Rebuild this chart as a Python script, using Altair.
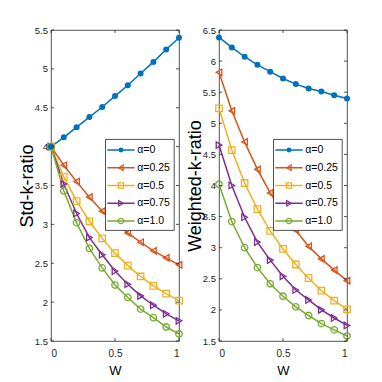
import altair as alt
import pandas as pd

W = [0.0, 0.1, 0.2, 0.3, 0.4, 0.5, 0.6, 0.7, 0.8, 0.9, 1.0]
series_names = ["α=0", "α=0.25", "α=0.5", "α=0.75", "α=1.0"]
colors = ["#0072BD", "#D95319", "#EDB120", "#7E2F8E", "#77AC30"]
shapes = ["circle", "triangle-left", "square", "triangle-right", "circle"]

std_a0 = [4.00, 4.12, 4.25, 4.38, 4.51, 4.65, 4.79, 4.94, 5.09, 5.25, 5.40]
std_a025 = [4.00, 3.76, 3.55, 3.35, 3.17, 3.02, 2.89, 2.77, 2.66, 2.57, 2.48]
std_a05 = [4.00, 3.61, 3.30, 3.04, 2.82, 2.63, 2.47, 2.33, 2.21, 2.11, 2.02]
std_a075 = [4.00, 3.52, 3.14, 2.83, 2.61, 2.40, 2.23, 2.08, 1.96, 1.85, 1.76]
std_a1 = [4.00, 3.43, 3.02, 2.69, 2.44, 2.22, 2.06, 1.91, 1.80, 1.68, 1.59]

wk_a0 = [6.38, 6.22, 6.07, 5.94, 5.83, 5.72, 5.63, 5.56, 5.51, 5.45, 5.40]
wk_a025 = [5.82, 5.20, 4.70, 4.26, 3.88, 3.56, 3.28, 3.02, 2.82, 2.64, 2.47]
wk_a05 = [5.24, 4.57, 4.04, 3.62, 3.27, 2.98, 2.73, 2.51, 2.31, 2.15, 2.01]
wk_a075 = [4.65, 4.00, 3.49, 3.09, 2.80, 2.54, 2.32, 2.16, 2.00, 1.87, 1.75]
wk_a1 = [4.02, 3.42, 3.00, 2.68, 2.42, 2.22, 2.05, 1.91, 1.78, 1.68, 1.58]

x_ticks = [0, 0.5, 1]
std_ticks = [1.5, 2, 2.5, 3, 3.5, 4, 4.5, 5, 5.5]
wk_ticks = [1.5, 2, 2.5, 3, 3.5, 4, 4.5, 5, 5.5, 6, 6.5]

FONT = "Liberation Sans Narrow, Liberation Sans, Arial, sans-serif"
AX = "#262626"
PW, PH = 128, 311

# legend box layout (pixels inside each plot area)
LEG_BOX = (54.5, 123.2, 109.4, 200.4)     # x0, x1, y0, y1
LEG_ROWS = (120.0, 191.0)                 # first / last row centre
LEG_LINE = (56.3, 83.6)
LEG_TEXT_X = 86.3


def panel(vals, ytitle, ydom, yticks):
    rows = []
    for name, v in zip(series_names, vals):
        for w, y in zip(W, v):
            rows.append({"W": w, "val": y, "series": name})
    df = pd.DataFrame(rows)
    base = alt.Chart(df)
    x = alt.X("W:Q", scale=alt.Scale(domain=[0, 1], nice=False),
              axis=alt.Axis(values=x_ticks, format="~g", title="W", titleFontSize=13,
                            labelPadding=7, titlePadding=6))
    y = alt.Y("val:Q", scale=alt.Scale(domain=ydom, nice=False, zero=False),
              axis=alt.Axis(values=yticks, format="~g", title=ytitle, titleFontSize=18,
                            labelPadding=3.5, titlePadding=-2, labelFontSize=9.5))
    cscale = alt.Scale(domain=series_names, range=colors)
    sscale = alt.Scale(domain=series_names, range=shapes)
    color = alt.Color("series:N", scale=cscale, legend=None)
    shape = alt.Shape("series:N", scale=sscale, legend=None)

    lines = base.mark_line(strokeWidth=1.5).encode(x=x, y=y, color=color)
    pts = base.transform_filter(alt.datum.series != series_names[0]).mark_point(
        filled=False, size=42, strokeWidth=1.3, opacity=1).encode(
        x=x, y=y, color=color, shape=shape)
    filled = base.transform_filter(alt.datum.series == series_names[0]).mark_point(
        filled=True, size=36, shape="circle", opacity=1).encode(x=x, y=y, color=color)

    ydf = pd.DataFrame({"val": yticks})
    xdf = pd.DataFrame({"W": x_ticks})
    tk = dict(color=AX, strokeWidth=0.8)
    t1 = alt.Chart(ydf).mark_rule(**tk).encode(y=y, x=alt.value(0), x2=alt.value(3))
    t2 = alt.Chart(ydf).mark_rule(**tk).encode(y=y, x=alt.value(PW - 3), x2=alt.value(PW))
    t3 = alt.Chart(xdf).mark_rule(**tk).encode(x=x, y=alt.value(PH - 3), y2=alt.value(PH))
    t4 = alt.Chart(xdf).mark_rule(**tk).encode(x=x, y=alt.value(0), y2=alt.value(3))
    main = alt.layer(lines, pts, filled, t1, t2, t3, t4)

    # legend (built from the series names)
    ldf = pd.DataFrame({"series": series_names, "row": list(range(len(series_names)))})
    lbase = alt.Chart(ldf)
    ly = alt.Y("row:Q", scale=alt.Scale(domain=[0, len(series_names) - 1],
                                        range=list(LEG_ROWS), nice=False, zero=False),
               axis=None)
    box = alt.Chart(pd.DataFrame({"k": [0]})).mark_rect(
        fill="white", stroke=AX, strokeWidth=0.8).encode(
        x=alt.value(LEG_BOX[0]), x2=alt.value(LEG_BOX[1]),
        y=alt.value(LEG_BOX[2]), y2=alt.value(LEG_BOX[3]))
    lrule = lbase.mark_rule(strokeWidth=1.5).encode(
        y=ly, x=alt.value(LEG_LINE[0]), x2=alt.value(LEG_LINE[1]), color=color)
    xm = (LEG_LINE[0] + LEG_LINE[1]) / 2
    lpts = lbase.transform_filter(alt.datum.series != series_names[0]).mark_point(
        filled=False, size=28, strokeWidth=1.2, opacity=1).encode(
        y=ly, x=alt.value(xm), color=color, shape=shape)
    lfill = lbase.transform_filter(alt.datum.series == series_names[0]).mark_point(
        filled=True, size=24, shape="circle", opacity=1).encode(
        y=ly, x=alt.value(xm), color=color)
    ltext = lbase.mark_text(align="left", baseline="middle", fontSize=10.5,
                            font=FONT, color="#000").encode(
        y=ly, x=alt.value(LEG_TEXT_X), text="series:N")
    legend = alt.layer(box, lrule, lpts, lfill, ltext)

    return alt.layer(main, legend).resolve_scale(y="independent").properties(
        width=PW, height=PH)


left = panel([std_a0, std_a025, std_a05, std_a075, std_a1], "Std-k-ratio", [1.5, 5.5], std_ticks)
right = panel([wk_a0, wk_a025, wk_a05, wk_a075, wk_a1], "Weighted-k-ratio", [1.5, 6.5], wk_ticks)

chart = alt.hconcat(left, right, spacing=40, bounds="flush").properties(
    padding={"left": 9, "top": 16, "right": 0, "bottom": 0}, background="white"
).configure_view(
    stroke=AX, strokeWidth=0.8
).configure_axis(
    labelFont=FONT, labelFontSize=10, labelColor=AX, titleFont=FONT,
    titleColor="#000", titleFontWeight="normal", ticks=False, domain=False, grid=False
)

chart.save("out.html", embed_options={"renderer": "svg", "actions": False})
